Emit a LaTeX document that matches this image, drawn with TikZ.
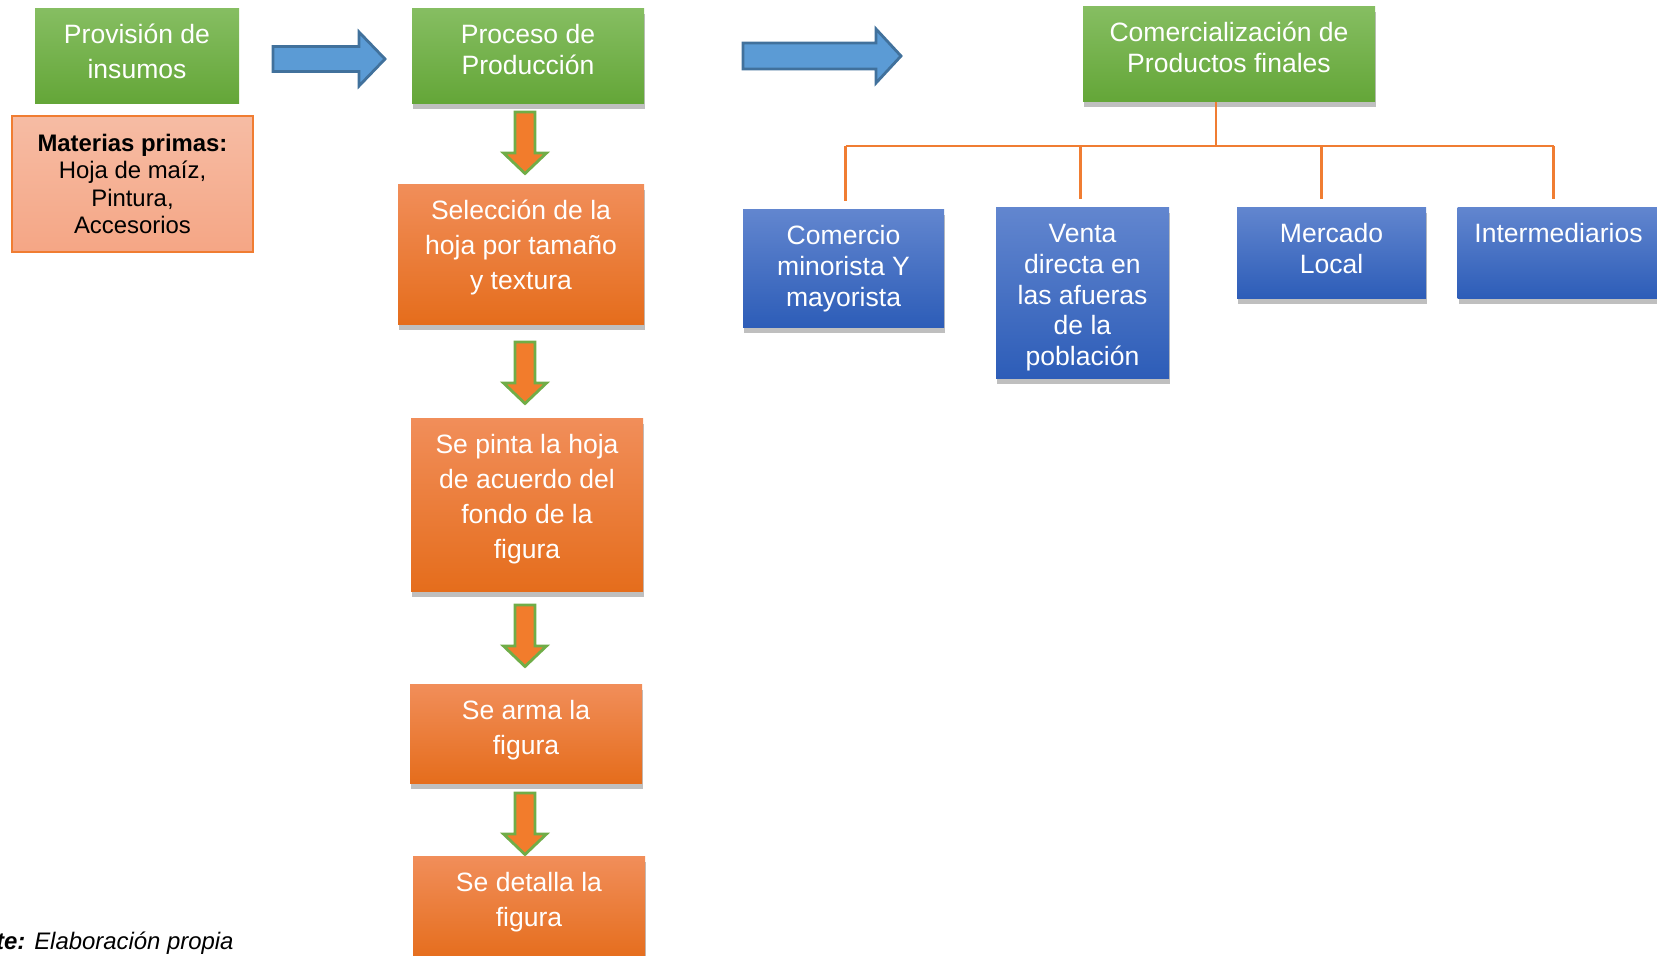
\documentclass[tikz,border=0pt]{standalone}
\usepackage{fontspec}
\setmainfont{Liberation Sans}
\usetikzlibrary{positioning, shadows}
\definecolor{verdeA}{RGB}{134,190,98}
\definecolor{verdeB}{RGB}{100,166,56}
\definecolor{naranjaA}{RGB}{241,142,90}
\definecolor{naranjaM}{RGB}{242,124,44}
\definecolor{naranjaB}{RGB}{229,109,28}
\definecolor{azulA}{RGB}{98,134,207}
\definecolor{azulB}{RGB}{45,93,184}
\definecolor{salmonA}{RGB}{246,188,164}
\definecolor{salmonB}{RGB}{245,166,133}
\definecolor{lineaN}{RGB}{240,125,50}
\definecolor{flechaA}{RGB}{91,155,213}
\definecolor{bordeA}{RGB}{65,113,156}
\definecolor{bordeV}{RGB}{112,173,71}
% texto pegado arriba, primera linea a 10pt del borde
\newcommand{\cajatexto}[3]{\parbox[c][#1][t]{#2}{\centering\rule{0pt}{10pt}#3}}
\tikzset{
caja/.style={
  rectangle,
  inner sep=0pt, text=white,
  font=\fontsize{7.55}{10}\selectfont
  },
junto/.style={font=\fontsize{7.55}{8.8}\selectfont},
sombra/.style={drop shadow={shadow xshift=0.1mm, shadow yshift=-0.6mm, opacity=0.25, fill=black}},
verde/.style={caja, top color=verdeA, bottom color=verdeB},
naranja/.style={caja, sombra, top color=naranjaA, middle color=naranjaM, bottom color=naranjaB},
azul/.style={caja, sombra, junto, top color=azulA, bottom color=azulB},
rama/.style={draw=lineaN, line width=0.6pt}
}

\begin{document}
\begin{tikzpicture}
\useasboundingbox (0,0) rectangle (16.57,-9.55);

% cajas verdes
\node[verde] (prov) at (1.37,-0.555) {\cajatexto{0.95cm}{2.04cm}{Provisión de\\insumos}};
\node[verde, sombra, junto] (proc) at (5.28,-0.555) {\cajatexto{0.95cm}{2.32cm}{Proceso de\\Producción}};
\node[verde, sombra, junto] (comerc) at (12.29,-0.535) {\cajatexto{0.95cm}{2.92cm}{Comercialización de\\Productos finales}};

% materias primas
\node[caja, text=black, align=center, draw=lineaN, line width=0.7pt, top color=salmonA, bottom color=salmonB,
  minimum width=2.41cm, minimum height=1.36cm, font=\fontsize{6.8}{7.8}\selectfont] (mat) at (1.325,-1.84)
  {\textbf{Materias primas:}\\Hoja de maíz,\\Pintura,\\Accesorios};

% proceso
\node[naranja] (sel) at (5.21,-2.54) {\cajatexto{1.40cm}{2.46cm}{Selección de la\\hoja por tamaño\\y textura}};
\node[naranja] (pinta) at (5.27,-5.045) {\cajatexto{1.73cm}{2.32cm}{Se pinta la hoja\\de acuerdo del\\fondo de la\\figura}};
\node[naranja] (arma) at (5.26,-7.335) {\cajatexto{0.99cm}{2.32cm}{Se arma la\\figura}};
\node[naranja] (detalla) at (5.29,-9.08) {\cajatexto{1.04cm}{2.32cm}{Se detalla la\\figura}};

% canales
\node[azul] (comercio) at (8.435,-2.68) {\cajatexto{1.18cm}{2.01cm}{Comercio\\minorista Y\\mayorista}};
\node[azul] (venta) at (10.825,-2.925) {\cajatexto{1.71cm}{1.73cm}{Venta\\directa en\\las afueras\\de la\\población}};
\node[azul] (mercado) at (13.315,-2.525) {\cajatexto{0.91cm}{1.89cm}{Mercado\\Local}};
\node[azul] (interm) at (15.585,-2.525) {\cajatexto{0.91cm}{2.02cm}{Intermediarios}};

% flechas azules
\draw[fill=flechaA, draw=bordeA, line width=0.8pt] (2.73,-0.465) -- (3.59,-0.465) -- (3.59,-0.32) -- (3.85,-0.59)
  -- (3.59,-0.86) -- (3.59,-0.715) -- (2.73,-0.715) -- cycle;
\draw[fill=flechaA, draw=bordeA, line width=0.8pt] (7.43,-0.43) -- (8.76,-0.43) -- (8.76,-0.29) -- (9.01,-0.56)
  -- (8.76,-0.83) -- (8.76,-0.69) -- (7.43,-0.69) -- cycle;

% flechas hacia abajo
\foreach \y in {1.12,3.42,6.05,7.93}
  \draw[fill=naranjaM, draw=bordeV, line width=0.8pt] (5.15,-\y) -- (5.35,-\y) -- (5.35,-\y-0.41) -- (5.465,-\y-0.41)
    -- (5.25,-\y-0.615) -- (5.035,-\y-0.41) -- (5.15,-\y-0.41) -- cycle;

% arbol
\coordinate (bus) at (12.16,-1.46);
\draw[rama] (comerc.south -| bus) -- (bus);
\draw[rama] ([xshift=0.2mm]bus -| comercio.north) -- ([xshift=-0.5mm]bus -| interm.north);
\foreach \c/\dx in {comercio/0.2, venta/-0.2, mercado/-1.0, interm/-0.5}
  \draw[rama, shorten >=0.7mm] ([xshift=\dx mm]bus -| \c.north) -- ([xshift=\dx mm]\c.north);

\node[anchor=west, inner sep=0pt, font=\fontsize{6.8}{8}\selectfont\itshape] (fuente) at (-0.045,-9.43) {\textbf{te:} Elaboración propia};
\end{tikzpicture}
\end{document}
